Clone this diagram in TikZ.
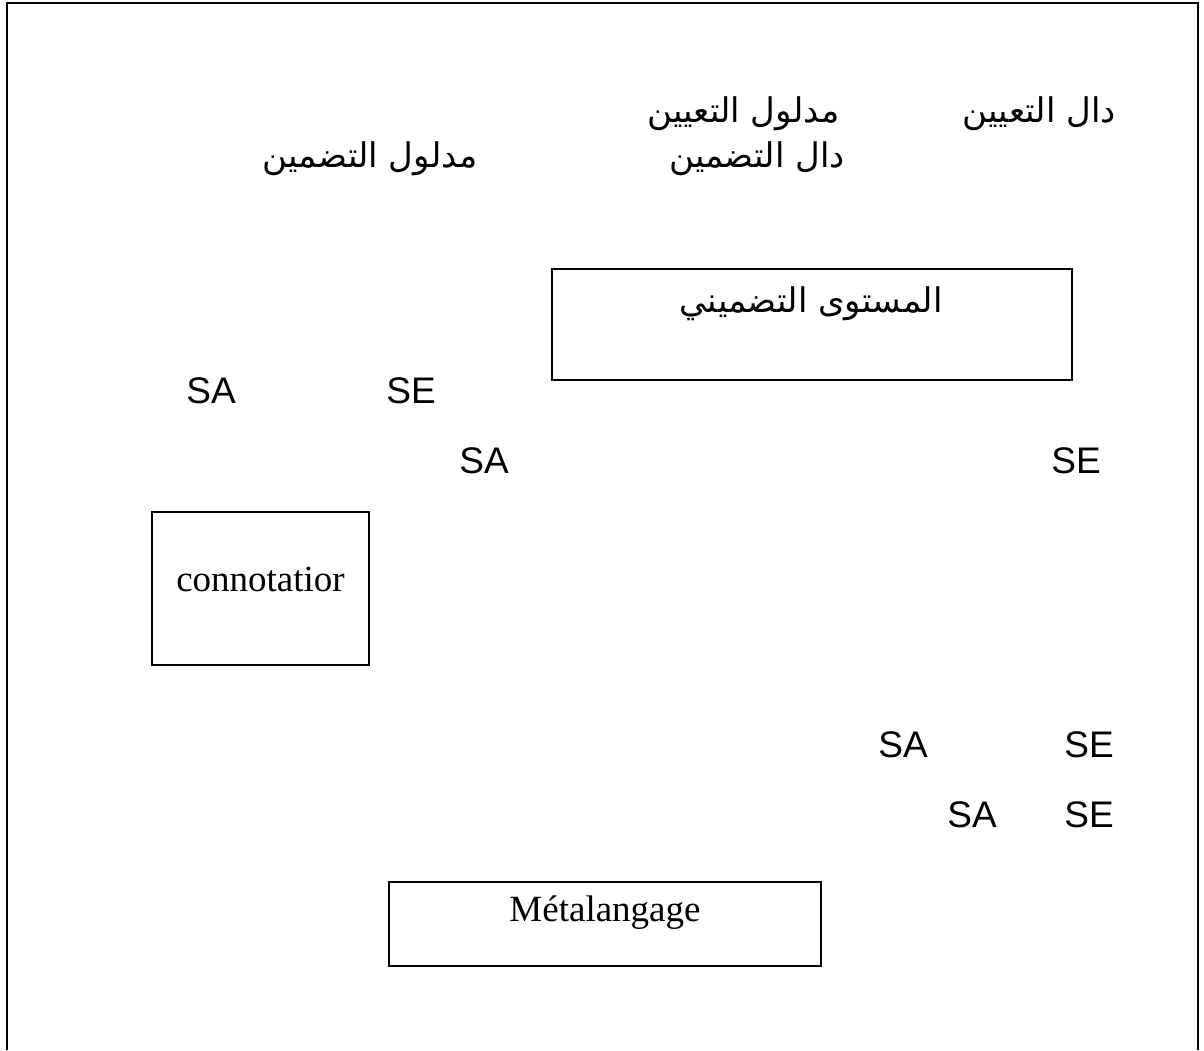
\documentclass[tikz,border=0pt]{standalone}
\usepackage{fontspec}
\setmainfont{Liberation Serif}
\newfontfamily\arialfont{Liberation Sans}
\newfontfamily\arabicfont[Script=Arabic]{DejaVu Sans}
\TeXXeTstate=1

\tikzset{
  lbl/.style={anchor=base, inner sep=0pt, font=\arialfont\fontsize{18.5}{22}\selectfont},
  ar/.style={anchor=base east, inner sep=0pt, font=\arabicfont\fontsize{17}{22}\selectfont},
  levelbox/.style={draw, line width=1pt, inner sep=0pt, anchor=north west,
    font=\fontsize{18.5}{22}\selectfont},
}

\begin{document}
\begin{tikzpicture}[x=0.5pt, y=-0.5pt]
\useasboundingbox (0,0) rectangle (1204,1050);
\draw[line width=1pt] (6.5,1050) -- (6.5,3) -- (1198,3) -- (1198,1050);

\node[ar] (dalt) at (1116,122) {\beginR دال التعيين\endR};
\node[ar] (madt) at (840,122) {\beginR مدلول التعيين\endR};
\node[ar] (dald) at (845,167) {\beginR دال التضمين\endR};
\node[ar] (madd) at (478,167) {\beginR مدلول التضمين\endR};

\node[levelbox, minimum width=260pt, text height=22pt, text depth=33.5pt] (tadmin) at (551,268)
  {\hspace*{0pt}};
\node[ar, anchor=base] (tadmintxt) at (811,312) {\beginR المستوى التضميني\endR};

\node[lbl] (sa1) at (211,403) {SA};
\node[lbl] (se1) at (411,403) {SE};
\node[lbl] (sa2) at (484,473) {SA};
\node[lbl] (se2) at (1076,473) {SE};

\node[levelbox, minimum width=108.5pt, text height=39.5pt, text depth=37pt] (conno) at (151,511)
  {connotatior};

\node[lbl] (sa3) at (903,757) {SA};
\node[lbl] (se3) at (1089,757) {SE};
\node[lbl] (sa4) at (972,827) {SA};
\node[lbl] (se4) at (1089,827) {SE};

\node[levelbox, minimum width=216pt, text height=19.5pt, text depth=22.5pt] (meta) at (388,881)
  {Métalangage};
\end{tikzpicture}
\end{document}
